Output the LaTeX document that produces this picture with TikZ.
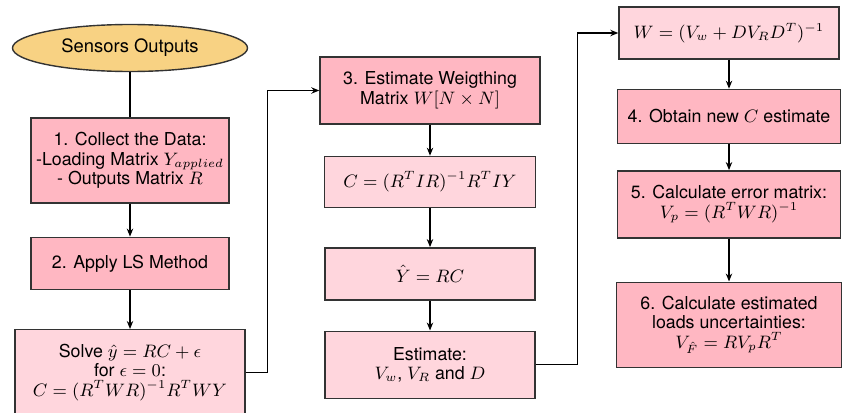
\documentclass[tikz,border=0pt]{standalone}
\usepackage{amsmath,amssymb}
\usepackage{fontspec}
\setmainfont{TeX Gyre Heros}
\usepackage{xcolor}
\usepackage{tikz}
\usetikzlibrary{shapes.geometric, arrows.meta, positioning}
\definecolor{stepPink}{HTML}{FFB7C2}
\definecolor{eqPink}{HTML}{FFD6DD}
\definecolor{startGold}{HTML}{F8D283}
\tikzset{
  stepbox/.style={rectangle, draw=black!80, line width=0.7pt,
                  fill=stepPink, align=center, inner sep=1pt,
                  font=\fontsize{8.9}{9.8}\selectfont},
  eqbox/.style={rectangle, draw=black!80, line width=0.7pt,
                fill=eqPink, align=center, inner sep=1pt,
                font=\fontsize{8.9}{9.8}\selectfont},
  startnode/.style={ellipse, draw=black!80, line width=0.7pt,
                    fill=startGold, align=center, inner sep=1pt,
                    font=\fontsize{9.2}{10}\selectfont},
  arr/.style={-{Stealth[length=4pt,width=3.2pt]}, line width=0.6pt},
  link/.style={line width=0.6pt},
}

\begin{document}
\begin{tikzpicture}
  \useasboundingbox (0,0) rectangle (422pt,-206pt);

  % left column
  \node[startnode, minimum width=117.5pt, minimum height=23.5pt] (so) at (65pt,-24pt) {Sensors Outputs};
  \node[stepbox, minimum width=99pt, minimum height=42.5pt, below=22.5pt of so] (collect)
    {1. Collect the Data:\\-Loading Matrix $Y_{applied}$\\- Outputs Matrix $R$};
  \node[stepbox, minimum width=99pt, minimum height=26pt, below=16.5pt of collect] (ls)
    {2. Apply LS Method};
  \node[eqbox, minimum width=115pt, minimum height=42.5pt, below=19.5pt of ls] (solve)
    {Solve $\hat{y} = RC + \epsilon$\\for $\epsilon = 0$:\\$C = (R^TWR)^{-1}R^TWY$};

  % middle column
  \node[stepbox, minimum width=110pt, minimum height=33.5pt] (estw) at (215pt,-45.25pt)
    {3. Estimate Weigthing\\Matrix $W[N\times N]$};
  \node[eqbox, minimum width=105.5pt, minimum height=25.5pt, below=15.5pt of estw] (cls)
    {$C = (R^TIR)^{-1}R^TIY$};
  \node[eqbox, minimum width=105pt, minimum height=26pt, below=19.5pt of cls] (yhat)
    {$\hat{Y} = RC$};
  \node[eqbox, minimum width=105pt, minimum height=33.5pt, below=15pt of yhat] (estv)
    {Estimate:\\$V_w$, $V_R$ and $D$};

  % right column
  \node[eqbox, minimum width=110pt, minimum height=26pt] (wnew) at (364.5pt,-16.5pt)
    {$W = (V_w + DV_RD^T)^{-1}$};
  \node[stepbox, minimum width=111.5pt, minimum height=27pt, below=14.5pt of wnew] (newc)
    {4. Obtain new $C$ estimate};
  \node[stepbox, minimum width=111.5pt, minimum height=33.5pt, below=13pt of newc] (err)
    {5. Calculate error matrix:\\$V_p = (R^TWR)^{-1}$};
  \node[stepbox, minimum width=112.5pt, minimum height=42.5pt, below=21.5pt of err] (unc)
    {6. Calculate estimated\\loads uncertainties:\\$V_{\hat{F}} = RV_pR^T$};

  \draw[link](so)--(collect);
  \draw[arr](collect)--(ls);
  \draw[arr](ls)--(solve);
  \draw[arr](solve.east)--++(11pt,0)|-(estw.west);

  \draw[arr](estw)--(cls);
  \draw[arr](cls)--(yhat);
  \draw[arr](yhat)--(estv);
  \draw[arr](estv.east)--++(21pt,0)|-(wnew.west);

  \draw[arr](wnew)--(newc);
  \draw[arr](newc)--(err);
  \draw[arr](err)--(unc);
\end{tikzpicture}
\end{document}
